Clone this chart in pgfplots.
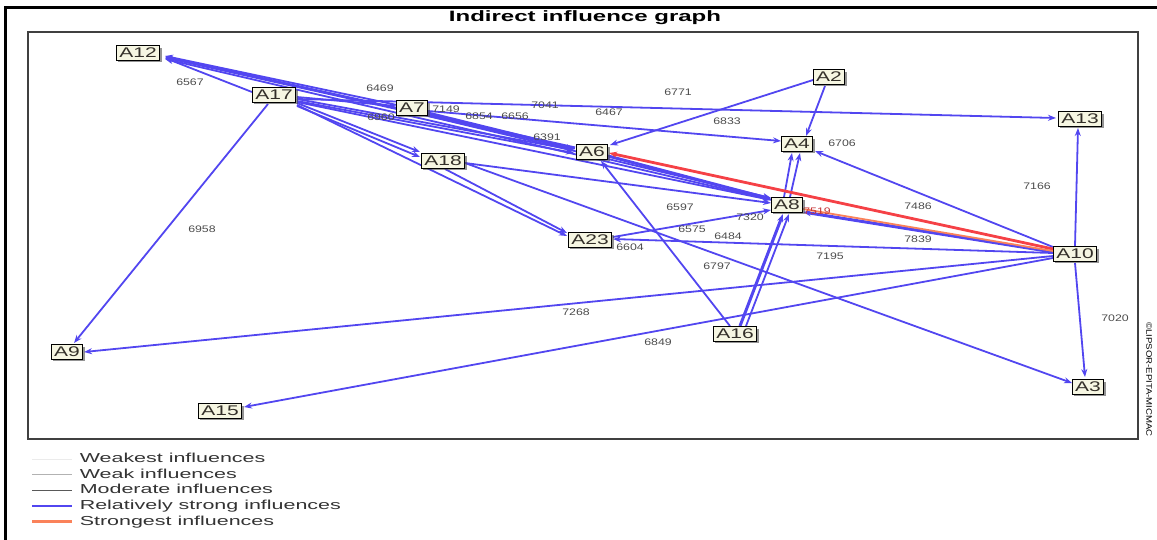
\documentclass[border=0pt]{standalone}
\usepackage{fontspec}
\setmainfont{Liberation Sans}
\newfontfamily\nodefont[FakeStretch=1.5]{Liberation Sans}
\newfontfamily\labfont[FakeStretch=1.3]{Liberation Sans}
\newfontfamily\legfont[FakeStretch=1.65]{Liberation Sans}
\newfontfamily\titfont[FakeStretch=1.6]{Liberation Sans}
\newfontfamily\cpfont[FakeStretch=1.2]{Liberation Sans}
\usepackage{pgfplots}
\pgfplotsset{compat=1.18}
\usetikzlibrary{arrows.meta,shadows}
\definecolor{relblue}{RGB}{82,70,240}
\definecolor{strred}{RGB}{245,65,70}
\definecolor{strorange}{RGB}{250,130,90}
\definecolor{nodefill}{RGB}{246,246,226}
\tikzset{
 rs/.style={relblue, line width=1.8pt, -{Stealth[length=8pt,width=6pt]}},
 rsk/.style={relblue, line width=3pt, -{Stealth[length=8pt,width=6pt]}},
 st/.style={strred, line width=2.8pt, -{Stealth[length=8pt,width=6pt]}},
 nd/.style={draw=black, line width=0.9pt, fill=nodefill, font=\nodefont\fontsize{14}{14}\selectfont,
   text=black!85!olive,
   inner xsep=3pt, inner ysep=2pt, text height=10pt, text depth=0.5pt,
   drop shadow={shadow xshift=2pt, shadow yshift=-2pt, fill=black!70, opacity=0.6}},
 lb/.style={font=\labfont\fontsize{9.5}{9.5}\selectfont, text=black!70, inner sep=0pt},
}
\begin{document}
\begin{tikzpicture}
\path[use as bounding box] (0,0) rectangle (1157pt,539pt);
\begin{axis}[
 at={(28pt,100pt)}, anchor=south west, scale only axis, width=1110pt, height=407pt,
 xmin=28, xmax=1138, ymin=32, ymax=439, y dir=reverse,
 xtick=\empty, ytick=\empty, clip=false,
 axis line style={black!75, line width=1.2pt},
 legend style={at={(axis cs:31,452)}, anchor=north west, draw=none, fill=none,
   font=\legfont\fontsize{13}{13}\selectfont, text=black!80, row sep=1.6pt, legend cell align=left,
   inner sep=0pt, nodes={inner xsep=6pt, inner ysep=1pt, text height=9.5pt, text depth=2.5pt}},
 legend image code/.code={\draw[#1] (0pt,0pt) -- (40pt,0pt);},
]
\addlegendimage{black!8, line width=1pt}
\addlegendentry{Weakest influences}
\addlegendimage{black!30, line width=1pt}
\addlegendentry{Weak influences}
\addlegendimage{black!65, line width=0.8pt}
\addlegendentry{Moderate influences}
\addlegendimage{relblue, line width=1.8pt}
\addlegendentry{Relatively strong influences}
\addlegendimage{strorange, line width=2.6pt}
\addlegendentry{Strongest influences}

% edges: relatively strong influences
\addplot[rs, forget plot] coordinates {(252,92) (165,58)};
\addplot[rs, forget plot] coordinates {(397,105) (165,56)};
\addplot[rsk, forget plot] coordinates {(575,148) (165,57)};
\addplot[rs, forget plot] coordinates {(772,200) (165,59)};
\addplot[rs, forget plot] coordinates {(268,104) (74,343)};
\addplot[rs, forget plot] coordinates {(297,97) (396,106)};
\addplot[rs, forget plot] coordinates {(297,99) (574,150)};
\addplot[rs, forget plot] coordinates {(297,101) (574,153)};
\addplot[rs, forget plot] coordinates {(297,102) (771,200)};
\addplot[rs, forget plot] coordinates {(297,103) (420,152)};
\addplot[rs, forget plot] coordinates {(297,106) (420,157)};
\addplot[rs, forget plot] coordinates {(297,105) (567,236)};
\addplot[rs, forget plot] coordinates {(445,169) (567,233)};
\addplot[rs, forget plot] coordinates {(297,99) (1056,118)};
\addplot[rs, forget plot] coordinates {(428,111) (781,141)};
\addplot[rsk, forget plot] coordinates {(428,113) (574,149)};
\addplot[rs, forget plot] coordinates {(428,116) (771,198)};
\addplot[rs, forget plot] coordinates {(813,80) (610,145)};
\addplot[rs, forget plot] coordinates {(825,86) (806,136)};
\addplot[rsk, forget plot] coordinates {(740,326) (783,214)};
\addplot[rs, forget plot] coordinates {(746,326) (789,214)};
\addplot[rs, forget plot] coordinates {(784,197) (792,153)};
\addplot[rs, forget plot] coordinates {(790,197) (800,153)};
\addplot[rs, forget plot] coordinates {(730,326) (601,161)};
\addplot[rs, forget plot] coordinates {(1075,246) (1078,128)};
\addplot[rs, forget plot] coordinates {(1075,263) (1085,377)};
\addplot[rs, forget plot] coordinates {(1053,247) (815,151)};
\addplot[rsk, forget plot] coordinates {(1053,252) (803,212)};
\addplot[rs, forget plot] coordinates {(1053,253) (613,239)};
\addplot[rs, forget plot] coordinates {(1053,256) (84,352)};
\addplot[rs, forget plot] coordinates {(1053,258) (244,407)};
\addplot[rs, forget plot] coordinates {(465,163) (1072,383)};
\addplot[rs, forget plot] coordinates {(465,163) (771,203)};
\addplot[rs, forget plot] coordinates {(613,237) (771,210)};
\addplot[rsk, forget plot] coordinates {(608,156) (771,199)};
% strongest influences
\addplot[st, forget plot] coordinates {(1053,249) (609,153)};
\addplot[strorange, line width=1.8pt, forget plot] coordinates {(1053,251) (803,209)};

% edge values
\node[lb] at (axis cs:190,82) {6567};
\node[lb] at (axis cs:380,88) {6469};
\node[lb] at (axis cs:678,92) {6771};
\node[lb] at (axis cs:545,105) {7041};
\node[lb] at (axis cs:609,112) {6467};
\node[lb] at (axis cs:727,121) {6833};
\node[lb] at (axis cs:842,143) {6706};
\node[lb] at (axis cs:446,109) {7149};
\node[lb] at (axis cs:479,116) {6854};
\node[lb] at (axis cs:515,116) {6656};
\node[lb] at (axis cs:381,117) {6960};
\node[lb] at (axis cs:547,137) {6391};
\node[lb] at (axis cs:680,207) {6597};
\node[lb] at (axis cs:750,217) {7320};
\node[lb] at (axis cs:692,229) {6575};
\node[lb] at (axis cs:728,236) {6484};
\node[lb] at (axis cs:630,247) {6604};
\node[lb] at (axis cs:717,266) {6797};
\node[lb] at (axis cs:830,256) {7195};
\node[lb] at (axis cs:918,239) {7839};
\node[lb] at (axis cs:918,206) {7486};
\node[lb, text=strred!80!black] at (axis cs:817,211) {7519};
\node[lb] at (axis cs:1037,186) {7166};
\node[lb] at (axis cs:1115,318) {7020};
\node[lb] at (axis cs:576,312) {7268};
\node[lb] at (axis cs:658,342) {6849};
\node[lb] at (axis cs:202,229) {6958};

% variables
\node[nd] at (axis cs:138,53) {A12};
\node[nd] at (axis cs:274,95) {A17};
\node[nd] at (axis cs:412,108) {A7};
\node[nd] at (axis cs:592,152) {A6};
\node[nd] at (axis cs:443,161) {A18};
\node[nd] at (axis cs:590,240) {A23};
\node[nd] at (axis cs:829,77) {A2};
\node[nd] at (axis cs:797,144) {A4};
\node[nd] at (axis cs:787,205) {A8};
\node[nd] at (axis cs:1080,119) {A13};
\node[nd] at (axis cs:1075,254) {A10};
\node[nd] at (axis cs:67,352) {A9};
\node[nd] at (axis cs:220,411) {A15};
\node[nd] at (axis cs:735,334) {A16};
\node[nd] at (axis cs:1088,387) {A3};

% title, frame, copyright
\node[font=\titfont\bfseries\fontsize{15}{15}\selectfont] at (axis cs:585,18) {Indirect influence graph};
\draw[line width=3pt, black] (axis cs:6,545) -- (axis cs:6,7) -- (axis cs:1165,7);
\node[rotate=-90, anchor=west, font=\cpfont\fontsize{8}{8}\selectfont, inner sep=0pt] at (axis cs:1149,322) {©LIPSOR-EPITA-MICMAC};
\end{axis}
\end{tikzpicture}
\end{document}
